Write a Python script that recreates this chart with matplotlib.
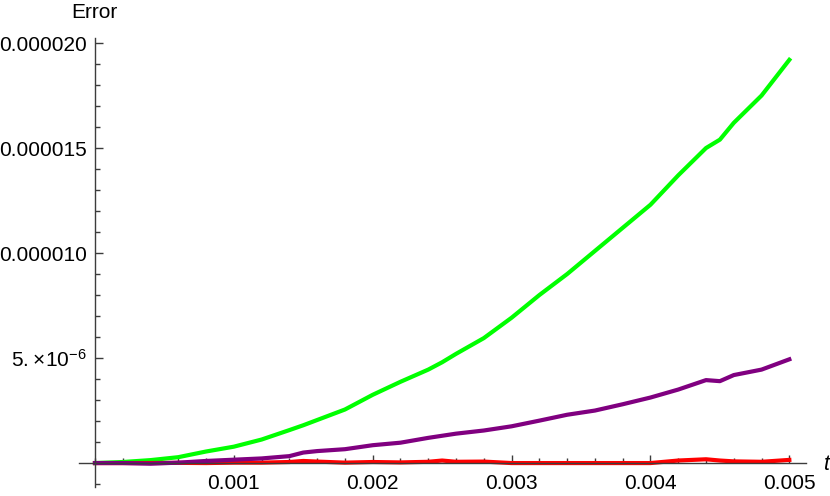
import numpy as np
import matplotlib
matplotlib.use("Agg")
import matplotlib.pyplot as plt
from matplotlib.ticker import FixedLocator, MultipleLocator

plt.rcParams['font.family'] = ['Liberation Sans', 'DejaVu Sans']
plt.rcParams['mathtext.fontset'] = 'custom'
plt.rcParams['mathtext.rm'] = 'Liberation Sans'
plt.rcParams['mathtext.it'] = 'Liberation Sans:italic'

# time samples
t = [0, 0.0002, 0.0004, 0.0006, 0.0008, 0.0010, 0.0012, 0.0014, 0.0015, 0.0016,
     0.0018, 0.0020, 0.0022, 0.0024, 0.0025, 0.0026, 0.0028, 0.0030, 0.0032,
     0.0034, 0.0036, 0.0038, 0.0040, 0.0042, 0.0044, 0.0045, 0.0046, 0.0048, 0.0050]

# errors in units of 1e-6
err_green = [0, 0.05, 0.14, 0.28, 0.55, 0.78, 1.12, 1.57, 1.8, 2.05,
             2.55, 3.25, 3.87, 4.45, 4.8, 5.2, 5.95, 6.92, 8.0,
             9.0, 10.1, 11.2, 12.3, 13.7, 15.0, 15.4, 16.2, 17.5, 19.2]
err_purple = [0, 0.0, -0.03, 0.02, 0.1, 0.16, 0.22, 0.33, 0.5, 0.57,
              0.66, 0.85, 0.97, 1.2, 1.3, 1.4, 1.55, 1.75, 2.02,
              2.3, 2.5, 2.8, 3.12, 3.5, 3.95, 3.9, 4.19, 4.45, 4.94]
err_red = [0, 0, 0, 0.01, 0.0, 0.02, 0.02, 0.05, 0.1, 0.07,
           0.02, 0.05, 0.03, 0.06, 0.12, 0.06, 0.07, 0.0, 0.0,
           0.0, 0.0, 0.0, 0.0, 0.12, 0.18, 0.12, 0.08, 0.06, 0.15]

xticks = [0.001, 0.002, 0.003, 0.004, 0.005]
xlabels = ['0.001', '0.002', '0.003', '0.004', '0.005']
yticks = [5e-6, 10e-6, 15e-6, 20e-6]
ylabels = [r'$5.\!\times\!10^{-6}$', '0.000010', '0.000015', '0.000020']

t = np.array(t)
fig = plt.figure(figsize=(8.3, 4.96), dpi=100)
ax = fig.add_axes([79/830, 9/496, 727/830, 449/496])

ax.plot(t, np.array(err_green)*1e-6, color=(0, 1, 0), lw=3, solid_joinstyle='round')
ax.plot(t, np.array(err_red)*1e-6, color=(1, 0, 0), lw=3, solid_joinstyle='round')
ax.plot(t, np.array(err_purple)*1e-6, color=(0.5, 0, 0.5), lw=3, solid_joinstyle='round')

ax.set_xlim(-0.000115, 0.00512)
ax.set_ylim(-1.14e-6, 20.24e-6)

for s in ['top', 'right']:
    ax.spines[s].set_visible(False)
ax.spines['bottom'].set_position(('data', 0))
ax.spines['left'].set_position(('data', 0))
for s in ['bottom', 'left']:
    ax.spines[s].set_color('#3c3c3c')
    ax.spines[s].set_linewidth(1.0)

ax.xaxis.set_major_locator(FixedLocator(xticks))
ax.set_xticklabels(xlabels)
ax.xaxis.set_minor_locator(MultipleLocator(0.0002))
ax.yaxis.set_major_locator(FixedLocator(yticks))
ax.set_yticklabels(ylabels)
ax.yaxis.set_minor_locator(MultipleLocator(1e-6))

ax.tick_params(which='both', direction='in', color='#3c3c3c', width=1.0)
ax.tick_params(which='major', length=6, labelsize=15, pad=6)
ax.tick_params(which='minor', length=3.5)
ax.tick_params(axis='x', which='major', pad=8)

fig.text(94/830, 1 - 12.5/496, 'Error', ha='center', va='center', fontsize=15)
fig.text(826/830, 1 - 464/496, 't', ha='center', va='center', fontsize=15.5,
         style='italic')

fig.savefig('out.png', dpi=100)
